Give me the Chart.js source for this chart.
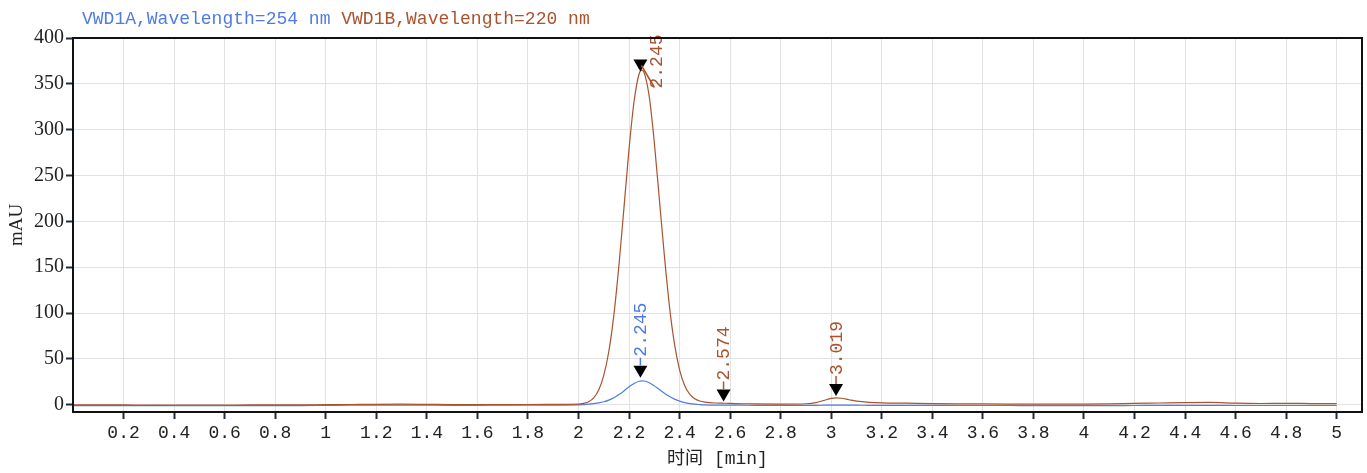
<!DOCTYPE html>
<html>
<head>
<meta charset="utf-8">
<script src="https://cdn.jsdelivr.net/npm/chart.js@4/dist/chart.umd.min.js"></script>
<style>
  html, body { margin: 0; padding: 0; background: #fff; }
  #wrap { width: 1367px; height: 473px; position: relative; }
</style>
</head>
<body>
<div id="wrap"><canvas id="chromChart"></canvas></div>
<script>
// retention time [min]
const times = [
  0, 0.1, 0.2, 0.3, 0.4, 0.5, 0.6, 0.7, 0.8, 0.9, 1.0, 1.1, 1.2, 1.3, 1.4, 1.5, 1.6, 1.7, 1.8, 1.9,
  2.0,
  2.02, 2.04, 2.06, 2.08, 2.10, 2.12, 2.14, 2.16, 2.18, 2.20, 2.22, 2.24,
  2.25,
  2.26, 2.28, 2.30, 2.32, 2.34, 2.36, 2.38, 2.40, 2.42, 2.44, 2.46, 2.48, 2.50,
  2.54, 2.57, 2.60, 2.65, 2.70, 2.80, 2.90,
  2.94, 2.97, 3.00, 3.02, 3.04, 3.07, 3.10, 3.15, 3.20,
  3.30, 3.40, 3.50, 3.60, 3.70, 3.80, 3.90, 4.00, 4.10, 4.20, 4.30, 4.40, 4.50, 4.60, 4.70, 4.80, 4.90, 5.00
];

// VWD1A, 254 nm
const vwd1a = [
  -1.0, -1.0, -1.1, -1.1, -1.2, -1.2, -1.2, -1.1, -1.1, -1.0, -0.8, -0.6, -0.5, -0.5, -0.6, -0.7, -0.7, -0.6, -0.6, -0.5,
  -0.3,
  0.1, 0.6, 1.2, 2.0, 3.2, 5.0, 7.5, 11, 15, 19.5, 23, 25.5,
  26,
  25.8, 24, 20.5, 16.5, 12.5, 9, 6, 3.8, 2.3, 1.2, 0.5, 0.1, -0.2,
  -0.4, -0.4, -0.5, -0.6, -0.7, -0.7, -0.7,
  -0.7, -0.6, -0.5, -0.5, -0.5, -0.6, -0.6, -0.7, -0.7,
  -0.8, -0.8, -0.9, -0.9, -0.9, -1.0, -1.0, -1.0, -1.0, -0.9, -0.8, -0.8, -0.8, -0.9, -0.9, -0.9, -0.9, -0.9
];

// VWD1B, 220 nm
const vwd1b = [
  -0.3, -0.3, -0.3, -0.4, -0.4, -0.4, -0.4, -0.3, -0.3, -0.2, 0.0, 0.2, 0.4, 0.5, 0.3, 0.1, 0.0, 0.1, 0.2, 0.3,
  0.6,
  1.5, 3.2, 7.5, 16, 32, 58, 98, 152, 215, 279, 331, 361,
  365,
  362, 336, 286, 224, 162, 107, 66, 38, 21, 11.5, 6.5, 4, 2.8,
  1.8, 1.6, 1.4, 1.0, 0.8, 0.6, 1.0,
  2.2, 4.5, 6.8, 7.5, 7.0, 5.4, 3.9, 2.6, 2.0,
  1.6, 1.2, 0.9, 0.8, 0.7, 0.6, 0.5, 0.6, 0.9, 1.4, 1.8, 2.2, 2.4, 1.6, 1.3, 1.5, 1.2, 1.1
];

const seriesNames = ['VWD1A,Wavelength=254 nm', 'VWD1B,Wavelength=220 nm'];
const seriesColors = ['#4f7be3', '#a9532f'];

// peak marks: time, label, series index (0 = A, 1 = B), marker height [mAU]
const peakTimes = [2.245, 2.245, 2.574, 3.019];
const peakLabels = ['2.245', '2.245', '2.574', '3.019'];
const peakSeries = [1, 0, 1, 1];
const peakMarkY = [370, 36, 10, 16];

const xTicks = [0.2, 0.4, 0.6, 0.8, 1, 1.2, 1.4, 1.6, 1.8, 2, 2.2, 2.4, 2.6, 2.8, 3, 3.2, 3.4, 3.6, 3.8, 4, 4.2, 4.4, 4.6, 4.8, 5];
const yTicks = [0, 50, 100, 150, 200, 250, 300, 350, 400];

const monoFont = "'Liberation Mono', monospace";
const serifFont = "'Liberation Serif', serif";

const frameAndHeader = {
  id: 'frameAndHeader',
  afterDraw(chart) {
    const { ctx, chartArea: a } = chart;
    ctx.save();
    ctx.strokeStyle = '#111';
    ctx.lineWidth = 2;
    ctx.strokeRect(a.left, a.top, a.right - a.left, a.bottom - a.top);

    ctx.font = '18px ' + monoFont;
    ctx.textBaseline = 'middle';
    ctx.textAlign = 'left';
    let x = 82;
    seriesNames.forEach((name, i) => {
      ctx.fillStyle = seriesColors[i];
      ctx.fillText(name, x, 19);
      x += ctx.measureText(name + ' ').width;
    });
    ctx.restore();
  }
};

const peakMarks = {
  id: 'peakMarks',
  afterDatasetsDraw(chart) {
    const { ctx, scales } = chart;
    peakTimes.forEach((t, i) => {
      const px = scales.x.getPixelForValue(t);
      const py = scales.y.getPixelForValue(peakMarkY[i]);
      const color = seriesColors[peakSeries[i]];
      ctx.save();
      // black triangle pointing down
      ctx.fillStyle = '#000';
      ctx.beginPath();
      ctx.moveTo(px - 7, py - 6);
      ctx.lineTo(px + 7, py - 6);
      ctx.lineTo(px, py + 6);
      ctx.closePath();
      ctx.fill();

      ctx.strokeStyle = color;
      ctx.lineWidth = 1.5;
      let tx = px, ty = py - 6;
      ctx.beginPath();
      if (i === 0) {
        // label pushed aside, with a leader line
        ctx.moveTo(px + 1, py);
        ctx.lineTo(px + 14, py + 22);
        tx = px + 16;
        ty = py + 24;
      } else {
        ctx.moveTo(px, ty);
        ctx.lineTo(px, ty - 8);
        ty -= 8;
      }
      ctx.stroke();

      ctx.translate(tx, ty);
      ctx.rotate(-Math.PI / 2);
      ctx.fillStyle = color;
      ctx.font = '18px ' + monoFont;
      ctx.textAlign = 'left';
      ctx.textBaseline = 'middle';
      ctx.fillText(peakLabels[i], 1, 1);
      ctx.restore();
    });
  }
};

const ctx = document.getElementById('chromChart').getContext('2d');
new Chart(ctx, {
  type: 'line',
  data: {
    datasets: [
      {
        label: seriesNames[1],
        data: times.map((t, i) => ({ x: t, y: vwd1b[i] })),
        borderColor: seriesColors[1],
        borderWidth: 1.2,
        pointRadius: 0,
        cubicInterpolationMode: 'monotone',
      },
      {
        label: seriesNames[0],
        data: times.map((t, i) => ({ x: t, y: vwd1a[i] })),
        borderColor: seriesColors[0],
        borderWidth: 1.2,
        pointRadius: 0,
        cubicInterpolationMode: 'monotone',
      },
    ],
  },
  options: {
    responsive: true,
    maintainAspectRatio: false,
    animation: false,
    layout: { padding: { top: 38, right: 5, left: 0, bottom: 0 } },
    plugins: {
      legend: { display: false },
      tooltip: { enabled: false },
    },
    scales: {
      x: {
        type: 'linear',
        min: 0,
        max: 5.1,
        afterBuildTicks: (scale) => { scale.ticks = xTicks.map((v) => ({ value: v })); },
        afterFit: (scale) => { scale.height = 61; },
        border: { display: false },
        grid: { color: '#e2e2e2', tickColor: '#1d2d3d', tickLength: 7, tickWidth: 2, lineWidth: 1 },
        ticks: {
          color: '#222',
          font: { family: monoFont, size: 18 },
          padding: 3,
          maxRotation: 0,
          autoSkip: false,
          callback: (v) => String(Number(v.toFixed(1))),
        },
        title: {
          display: true,
          text: '时间 [min]',
          color: '#222',
          font: { family: "'Liberation Mono', 'Noto Sans CJK SC'", size: 18 },
          padding: { top: 0, bottom: 3 },
        },
      },
      y: {
        min: -8,
        max: 400,
        afterBuildTicks: (scale) => { scale.ticks = yTicks.map((v) => ({ value: v })); },
        afterFit: (scale) => { scale.width = 73; },
        border: { display: false },
        grid: { color: '#e2e2e2', tickColor: '#1d2d3d', tickLength: 7, tickWidth: 2, lineWidth: 1 },
        ticks: {
          color: '#222',
          font: { family: serifFont, size: 20 },
          padding: 2,
        },
        title: {
          display: true,
          text: 'mAU',
          color: '#222',
          font: { family: serifFont, size: 19 },
          padding: { top: 6, bottom: 0 },
        },
      },
    },
  },
  plugins: [frameAndHeader, peakMarks],
});
</script>
</body>
</html>
